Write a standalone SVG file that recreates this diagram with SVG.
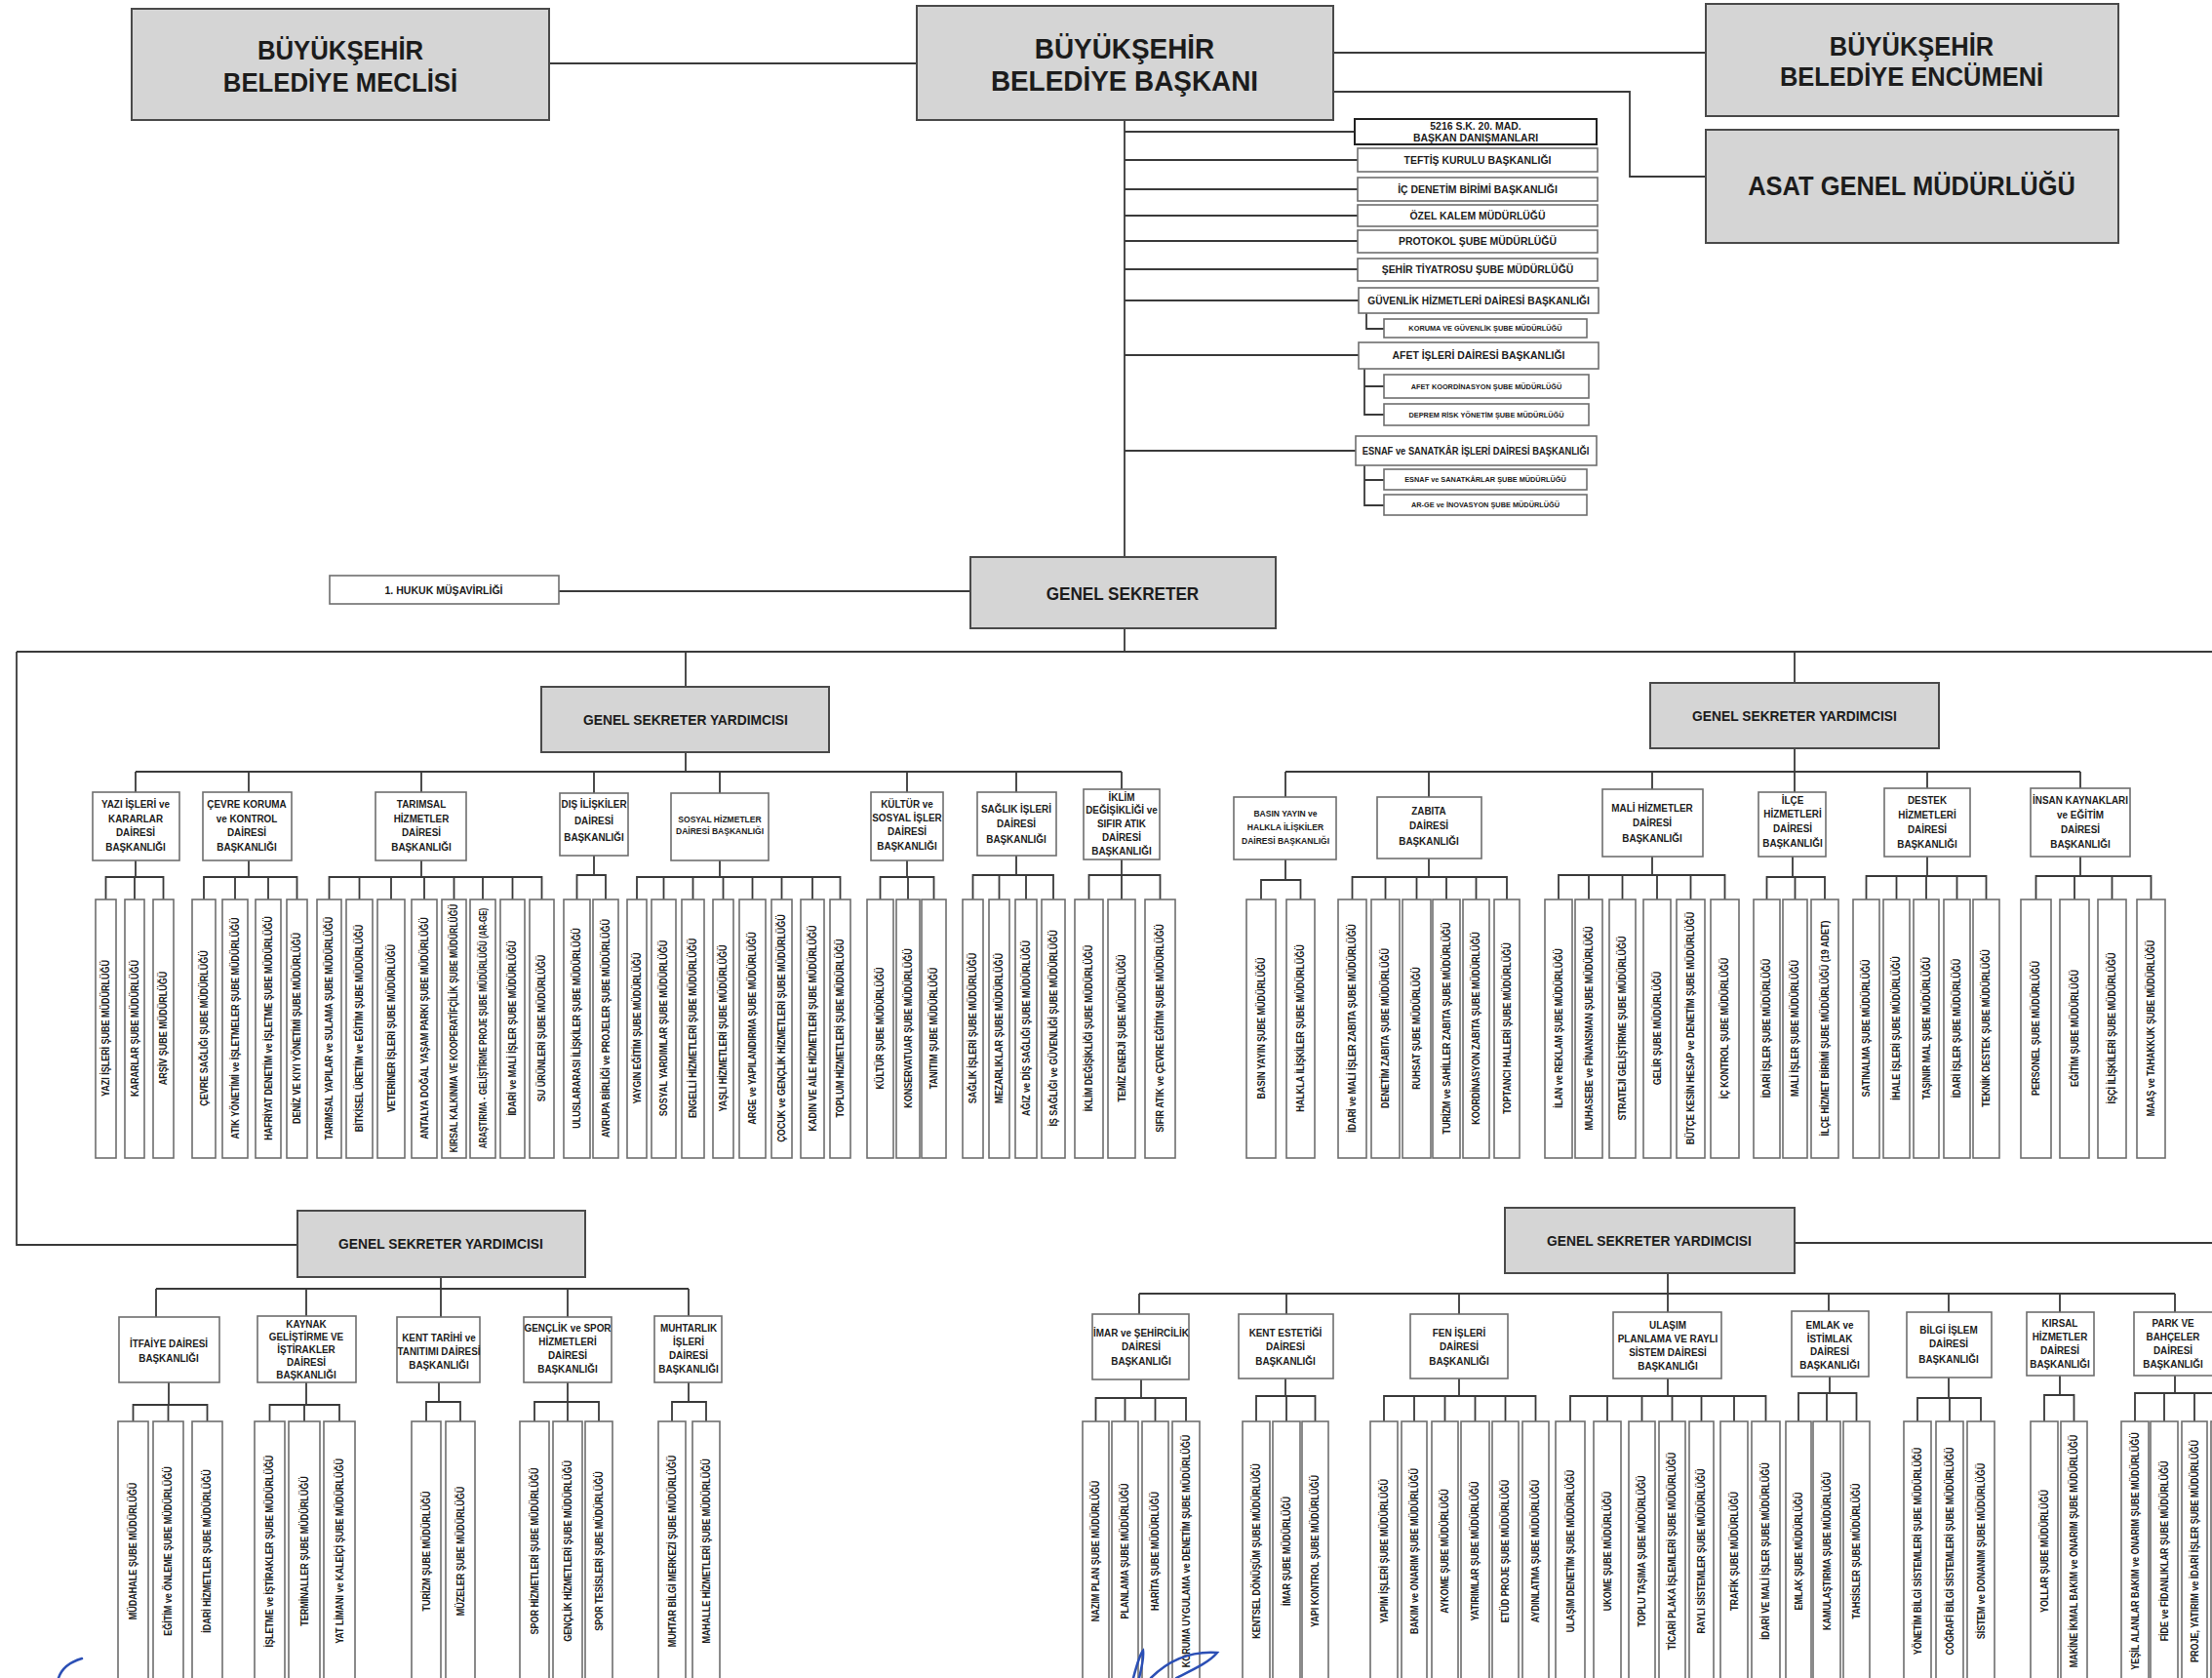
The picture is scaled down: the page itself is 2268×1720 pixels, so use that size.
<svg xmlns="http://www.w3.org/2000/svg" width="2268" height="1720" viewBox="0 0 2268 1720">
<style>
.g{fill:#d5d5d5;stroke:#4a4a4a;stroke-width:2}
.w{fill:#fff;stroke:#6e6e6e;stroke-width:1.6}
.wk{fill:#fff;stroke:#222;stroke-width:2}
.c{fill:none;stroke:#3a3a3a;stroke-width:1.8}
text{font-family:"Liberation Sans",Arial,sans-serif;font-weight:bold;fill:#1c1c1c;text-anchor:middle}
.t1{font-size:28px}
.t1b{font-size:30px}
.t2{font-size:19px}
.t3{font-size:15px}
.td{font-size:11px}
.tds{font-size:9.5px}
.tl{font-size:11px}
.ts{font-size:8px}
.tv{font-size:10px}
.sig{fill:none;stroke:#2b4fb5;stroke-width:2.5;stroke-linecap:round}
</style>
<rect width="2268" height="1720" fill="#fff"/>

<g id="connectors" class="c">
<path d="M563,65H940M1367,54H1749M1367,94H1671V181H1749M1153,123V571"/>
<path d="M1153,135H1389M1153,164H1392M1153,194H1392M1153,221H1392M1153,247H1392M1153,276H1392M1153,308H1393M1153,364H1393M1153,462H1390"/>
<path d="M1401,321V337H1419M1399,378V425H1419M1399,396H1419M1399,477V518H1419M1399,492H1419"/>
<path d="M573,606H995M1153,644V668M17,668H2268M17,668V1276H305"/>
<path d="M703,668V704M1840,668V700M703,771V791M1840,767V812"/>
<path d="M139,791H1150M139,791V812M255,791V812M432,791V812M609,791V813M738,791V813M930,791V812M1042,791V812M1150,791V809"/>
<path d="M1318,791H2133M1318,791V817M1465,791V817M1694,791V809M1976,791V808M2133,791V808"/>
<path d="M139,882V899M108.5,922V899H167.5V922M138,899V922"/>
<path d="M255,882V899M209,922V899H304.5V922M241,899V922M275,899V922"/>
<path d="M432,882V899M337.5,922V899H555.5V922M368.5,899V922M401,899V922M435,899V922M465.5,899V922M495,899V922M525.5,899V922"/>
<path d="M609,877V897M591.5,922V897H621V922"/>
<path d="M738,882V899M653,922V899H861.5V922M680.5,899V922M710.5,899V922M741.5,899V922M771.5,899V922M801.5,899V922M833,899V922"/>
<path d="M930,882V899M902.5,922V899H957.5V922M931,899V922"/>
<path d="M1042,877V897M997.5,922V897H1080V922M1024.5,897V922M1052,897V922"/>
<path d="M1150,881V897M1116.5,922V897H1189.5V922M1150,897V922"/>
<path d="M1318,881V902M1293,922V902H1333.5V922"/>
<path d="M1465,880V899M1386.5,922V899H1545V922M1420.5,899V922M1452.5,899V922M1483,899V922M1513.5,899V922"/>
<path d="M1694,878V897M1598,922V897H1768.5V922M1629,897V922M1663.5,897V922M1699,897V922M1733.5,897V922"/>
<path d="M1838,878V899M1811.5,922V899H1871V922M1840.5,899V922"/>
<path d="M1976,878V898M1913.5,922V898H2036.5V922M1944.5,898V922M1975,898V922M2006.5,898V922"/>
<path d="M2133,878V898M2087.5,922V898H2205.5V922M2127,898V922M2165.5,898V922"/>
<path d="M452,1309V1321M160,1321H706M160,1321V1350M314,1321V1349M452,1321V1350M582,1321V1350M706,1321V1349"/>
<path d="M173,1417V1440M136.5,1457V1440H212.5V1457M172.5,1440V1457"/>
<path d="M314,1417V1440M276.5,1457V1440H348V1457M312,1440V1457"/>
<path d="M450,1417V1437M437,1457V1437H472V1457"/>
<path d="M582,1417V1437M548,1457V1437H614V1457M582,1437V1457"/>
<path d="M706,1417V1437M689,1457V1437H724V1457"/>
<path d="M1840,1274H2268M1710,1305V1345M1168,1326H2230M1168,1326V1347M1319,1326V1347M1496,1326V1347M1875,1326V1344M1998,1326V1345M2112,1326V1345M2230,1326V1345"/>
<path d="M1170,1414V1433M1123.5,1457V1433H1216V1457M1153.5,1433V1457M1184.5,1433V1457"/>
<path d="M1318,1413V1431M1288,1457V1431H1348.5V1457M1319,1431V1457"/>
<path d="M1496,1413V1431M1419,1457V1431H1574.5V1457M1450,1431V1457M1481.5,1431V1457M1512.5,1431V1457M1543.5,1431V1457"/>
<path d="M1710,1413V1431M1610,1457V1431H1810.5V1457M1648,1431V1457M1683.5,1431V1457M1714.5,1431V1457M1744.5,1431V1457M1778,1431V1457"/>
<path d="M1876,1411V1428M1844,1457V1428H1903.5V1457M1873,1428V1457"/>
<path d="M1998,1412V1433M1966,1457V1433H2031V1457M1999,1433V1457"/>
<path d="M2112,1410V1430M2096,1457V1430H2126.5V1457"/>
<path d="M2230,1410V1428M2189,1457V1428H2281V1457M2219,1428V1457M2250,1428V1457"/>
</g>

<!-- top level -->
<g id="meclis"><rect class="g" x="135" y="9" width="428" height="114"/><text class="t1" transform="translate(349,0) scale(0.92,1)"><tspan x="0" y="61">BÜYÜKŞEHİR</tspan><tspan x="0" y="94">BELEDİYE MECLİSİ</tspan></text></g>
<g id="baskan"><rect class="g" x="940" y="6" width="427" height="117"/><text class="t1b" transform="translate(1153,0) scale(0.93,1)"><tspan x="0" y="60">BÜYÜKŞEHİR</tspan><tspan x="0" y="93">BELEDİYE BAŞKANI</tspan></text></g>
<g id="encumen"><rect class="g" x="1749" y="4" width="423" height="115"/><text class="t1" transform="translate(1960,0) scale(0.91,1)"><tspan x="0" y="57">BÜYÜKŞEHİR</tspan><tspan x="0" y="88">BELEDİYE ENCÜMENİ</tspan></text></g>
<g id="asat"><rect class="g" x="1749" y="133" width="423" height="116"/><text class="t1" transform="translate(1960,0) scale(0.91,1)" y="200">ASAT GENEL MÜDÜRLÜĞÜ</text></g>

<!-- advisory list -->
<g id="danismanlar"><rect class="wk" x="1389" y="122" width="248" height="26"/><text class="tl" font-size="10.5" transform="translate(1513,0) scale(0.95,1)"><tspan x="0" y="133">5216 S.K. 20. MAD.</tspan><tspan x="0" y="145">BAŞKAN DANIŞMANLARI</tspan></text></g>
<g id="teftis"><rect class="w" x="1392" y="152" width="246" height="24"/><text class="tl" transform="translate(1515,0) scale(0.95,1)" y="168">TEFTİŞ KURULU BAŞKANLIĞI</text></g>
<g id="icdenetim"><rect class="w" x="1392" y="182" width="246" height="24"/><text class="tl" transform="translate(1515,0) scale(0.95,1)" y="198">İÇ DENETİM BİRİMİ BAŞKANLIĞI</text></g>
<g id="ozelkalem"><rect class="w" x="1392" y="210" width="246" height="22"/><text class="tl" transform="translate(1515,0) scale(0.95,1)" y="225">ÖZEL KALEM MÜDÜRLÜĞÜ</text></g>
<g id="protokol"><rect class="w" x="1392" y="236" width="246" height="23"/><text class="tl" transform="translate(1515,0) scale(0.95,1)" y="251">PROTOKOL ŞUBE MÜDÜRLÜĞÜ</text></g>
<g id="tiyatro"><rect class="w" x="1392" y="265" width="246" height="23"/><text class="tl" transform="translate(1515,0) scale(0.95,1)" y="280">ŞEHİR TİYATROSU ŞUBE MÜDÜRLÜĞÜ</text></g>
<g id="guvenlik"><rect class="w" x="1393" y="295" width="246" height="26"/><text class="tl" transform="translate(1516,0) scale(0.93,1)" y="312">GÜVENLİK HİZMETLERİ DAİRESİ BAŞKANLIĞI</text></g>
<g id="koruma"><rect class="w" x="1419" y="327" width="208" height="19"/><text class="ts" transform="translate(1523,0) scale(0.92,1)" y="339">KORUMA VE GÜVENLİK ŞUBE MÜDÜRLÜĞÜ</text></g>
<g id="afet"><rect class="w" x="1393" y="351" width="246" height="27"/><text class="tl" transform="translate(1516,0) scale(0.95,1)" y="368">AFET İŞLERİ DAİRESİ BAŞKANLIĞI</text></g>
<g id="afetkoord"><rect class="w" x="1419" y="384" width="210" height="24"/><text class="ts" transform="translate(1524,0) scale(0.92,1)" y="399">AFET KOORDİNASYON ŞUBE MÜDÜRLÜĞÜ</text></g>
<g id="deprem"><rect class="w" x="1419" y="414" width="210" height="22"/><text class="ts" transform="translate(1524,0) scale(0.92,1)" y="428">DEPREM RİSK YÖNETİM ŞUBE MÜDÜRLÜĞÜ</text></g>
<g id="esnaf"><rect class="w" x="1390" y="447" width="247" height="30"/><text class="tl" transform="translate(1513,0) scale(0.85,1)" y="466">ESNAF ve SANATKÂR İŞLERİ DAİRESİ BAŞKANLIĞI</text></g>
<g id="esnafsube"><rect class="w" x="1419" y="481" width="208" height="21"/><text class="ts" transform="translate(1523,0) scale(0.92,1)" y="494">ESNAF ve SANATKÂRLAR ŞUBE MÜDÜRLÜĞÜ</text></g>
<g id="arge"><rect class="w" x="1419" y="507" width="208" height="21"/><text class="ts" transform="translate(1523,0) scale(0.92,1)" y="520">AR-GE ve İNOVASYON ŞUBE MÜDÜRLÜĞÜ</text></g>

<g id="hukuk"><rect class="w" x="338" y="590" width="235" height="29"/><text class="tl" font-size="12" transform="translate(455,0) scale(0.96,1)" y="609">1. HUKUK MÜŞAVİRLİĞİ</text></g>
<g id="genelsekreter"><rect class="g" x="995" y="571" width="313" height="73"/><text class="t2" transform="translate(1151,0) scale(0.9,1)" y="615">GENEL SEKRETER</text></g>

<g id="gsy1"><rect class="g" x="555" y="704" width="295" height="67"/><text class="t3" transform="translate(703,0) scale(0.92,1)" y="743">GENEL SEKRETER YARDIMCISI</text></g>
<g id="gsy2"><rect class="g" x="1692" y="700" width="296" height="67"/><text class="t3" transform="translate(1840,0) scale(0.92,1)" y="739">GENEL SEKRETER YARDIMCISI</text></g>
<g id="gsy3"><rect class="g" x="305" y="1241" width="295" height="68"/><text class="t3" transform="translate(452,0) scale(0.92,1)" y="1280">GENEL SEKRETER YARDIMCISI</text></g>
<g id="gsy4"><rect class="g" x="1543" y="1238" width="297" height="67"/><text class="t3" transform="translate(1691,0) scale(0.92,1)" y="1277">GENEL SEKRETER YARDIMCISI</text></g>

<!-- row 1 left departments -->
<g id="yazi"><rect class="w" x="95" y="812" width="89" height="70"/><text class="td" transform="translate(139,0) scale(0.9,1)"><tspan x="0" y="828">YAZI İŞLERİ ve</tspan><tspan x="0" y="843">KARARLAR</tspan><tspan x="0" y="857">DAİRESİ</tspan><tspan x="0" y="872">BAŞKANLIĞI</tspan></text>
<rect class="w" x="98" y="922" width="21" height="265"/><text class="tv" transform="translate(108.5,1054) rotate(-90) scale(0.9,1)" y="3.5">YAZI İŞLERİ ŞUBE MÜDÜRLÜĞÜ</text>
<rect class="w" x="128" y="922" width="20" height="265"/><text class="tv" transform="translate(138,1054) rotate(-90) scale(0.9,1)" y="3.5">KARARLAR ŞUBE MÜDÜRLÜĞÜ</text>
<rect class="w" x="157" y="922" width="21" height="265"/><text class="tv" transform="translate(167.5,1054) rotate(-90) scale(0.9,1)" y="3.5">ARŞİV ŞUBE MÜDÜRLÜĞÜ</text></g>

<g id="cevre"><rect class="w" x="208" y="812" width="91" height="70"/><text class="td" transform="translate(253,0) scale(0.9,1)"><tspan x="0" y="828">ÇEVRE KORUMA</tspan><tspan x="0" y="843">ve KONTROL</tspan><tspan x="0" y="857">DAİRESİ</tspan><tspan x="0" y="872">BAŞKANLIĞI</tspan></text>
<rect class="w" x="197" y="922" width="24" height="265"/><text class="tv" transform="translate(209,1054) rotate(-90) scale(0.9,1)" y="3.5">ÇEVRE SAĞLIĞI ŞUBE MÜDÜRLÜĞÜ</text>
<rect class="w" x="228" y="922" width="26" height="265"/><text class="tv" transform="translate(241,1054) rotate(-90) scale(0.9,1)" y="3.5">ATIK YÖNETİMİ ve İŞLETMELER ŞUBE MÜDÜRLÜĞÜ</text>
<rect class="w" x="262" y="922" width="26" height="265"/><text class="tv" transform="translate(275,1054) rotate(-90) scale(0.9,1)" y="3.5">HAFRİYAT DENETİM ve İŞLETME ŞUBE MÜDÜRLÜĞÜ</text>
<rect class="w" x="294" y="922" width="21" height="265"/><text class="tv" transform="translate(304.5,1054) rotate(-90) scale(0.9,1)" y="3.5">DENİZ VE KIYI YÖNETİMİ ŞUBE MÜDÜRLÜĞÜ</text></g>

<g id="tarimsal"><rect class="w" x="385" y="812" width="93" height="70"/><text class="td" transform="translate(432,0) scale(0.9,1)"><tspan x="0" y="828">TARIMSAL</tspan><tspan x="0" y="843">HİZMETLER</tspan><tspan x="0" y="857">DAİRESİ</tspan><tspan x="0" y="872">BAŞKANLIĞI</tspan></text>
<rect class="w" x="325" y="922" width="25" height="265"/><text class="tv" transform="translate(337.5,1054) rotate(-90) scale(0.9,1)" y="3.5">TARIMSAL YAPILAR ve SULAMA ŞUBE MÜDÜRLÜĞÜ</text>
<rect class="w" x="355" y="922" width="27" height="265"/><text class="tv" transform="translate(368.5,1054) rotate(-90) scale(0.9,1)" y="3.5">BİTKİSEL ÜRETİM ve EĞİTİM ŞUBE MÜDÜRLÜĞÜ</text>
<rect class="w" x="387" y="922" width="28" height="265"/><text class="tv" transform="translate(401,1054) rotate(-90) scale(0.9,1)" y="3.5">VETERİNER İŞLERİ ŞUBE MÜDÜRLÜĞÜ</text>
<rect class="w" x="422" y="922" width="26" height="265"/><text class="tv" transform="translate(435,1054) rotate(-90) scale(0.9,1)" y="3.5">ANTALYA DOĞAL YAŞAM PARKI ŞUBE MÜDÜRLÜĞÜ</text>
<rect class="w" x="453" y="922" width="25" height="265"/><text class="tv" transform="translate(465.5,1054) rotate(-90) scale(0.9,1)" y="3.5" textLength="283" lengthAdjust="spacingAndGlyphs">KIRSAL KALKINMA VE KOOPERATİFÇİLİK ŞUBE MÜDÜRLÜĞÜ</text>
<rect class="w" x="482" y="922" width="26" height="265"/><text class="tv" transform="translate(495,1054) rotate(-90) scale(0.9,1)" y="3.5" textLength="274" lengthAdjust="spacingAndGlyphs">ARAŞTIRMA - GELİŞTİRME PROJE ŞUBE MÜDÜRLÜĞÜ (AR-GE)</text>
<rect class="w" x="513" y="922" width="25" height="265"/><text class="tv" transform="translate(525.5,1054) rotate(-90) scale(0.9,1)" y="3.5">İDARİ ve MALİ İŞLER ŞUBE MÜDÜRLÜĞÜ</text>
<rect class="w" x="543" y="922" width="25" height="265"/><text class="tv" transform="translate(555.5,1054) rotate(-90) scale(0.9,1)" y="3.5">SU ÜRÜNLERİ ŞUBE MÜDÜRLÜĞÜ</text></g>

<g id="disiliskiler"><rect class="w" x="574" y="813" width="70" height="64"/><text class="td" font-size="10" transform="translate(609,0) scale(0.9,1)"><tspan x="0" y="828">DIŞ İLİŞKİLER</tspan><tspan x="0" y="845">DAİRESİ</tspan><tspan x="0" y="862">BAŞKANLIĞI</tspan></text>
<rect class="w" x="578" y="922" width="27" height="265"/><text class="tv" transform="translate(591.5,1054) rotate(-90) scale(0.9,1)" y="3.5">ULUSLARARASI İLİŞKİLER ŞUBE MÜDÜRLÜĞÜ</text>
<rect class="w" x="608" y="922" width="26" height="265"/><text class="tv" transform="translate(621,1054) rotate(-90) scale(0.9,1)" y="3.5">AVRUPA BİRLİĞİ ve PROJELER ŞUBE MÜDÜRLÜĞÜ</text></g>

<g id="sosyal"><rect class="w" x="688" y="813" width="100" height="69"/><text class="tds" transform="translate(738,0) scale(0.9,1)"><tspan x="0" y="843">SOSYAL HİZMETLER</tspan><tspan x="0" y="855">DAİRESİ BAŞKANLIĞI</tspan></text>
<rect class="w" x="643" y="922" width="20" height="265"/><text class="tv" transform="translate(653,1054) rotate(-90) scale(0.9,1)" y="3.5">YAYGIN EĞİTİM ŞUBE MÜDÜRLÜĞÜ</text>
<rect class="w" x="668" y="922" width="25" height="265"/><text class="tv" transform="translate(680.5,1054) rotate(-90) scale(0.9,1)" y="3.5">SOSYAL YARDIMLAR ŞUBE MÜDÜRLÜĞÜ</text>
<rect class="w" x="699" y="922" width="23" height="265"/><text class="tv" transform="translate(710.5,1054) rotate(-90) scale(0.9,1)" y="3.5">ENGELLİ HİZMETLERİ ŞUBE MÜDÜRLÜĞÜ</text>
<rect class="w" x="731" y="922" width="21" height="265"/><text class="tv" transform="translate(741.5,1054) rotate(-90) scale(0.9,1)" y="3.5">YAŞLI HİZMETLERİ ŞUBE MÜDÜRLÜĞÜ</text>
<rect class="w" x="758" y="922" width="27" height="265"/><text class="tv" transform="translate(771.5,1054) rotate(-90) scale(0.9,1)" y="3.5">ARGE ve YAPILANDIRMA ŞUBE MÜDÜRLÜĞÜ</text>
<rect class="w" x="791" y="922" width="21" height="265"/><text class="tv" transform="translate(801.5,1054) rotate(-90) scale(0.9,1)" y="3.5">ÇOCUK ve GENÇLİK HİZMETLERİ ŞUBE MÜDÜRLÜĞÜ</text>
<rect class="w" x="821" y="922" width="24" height="265"/><text class="tv" transform="translate(833,1054) rotate(-90) scale(0.9,1)" y="3.5">KADIN VE AİLE HİZMETLERİ ŞUBE MÜDÜRLÜĞÜ</text>
<rect class="w" x="851" y="922" width="21" height="265"/><text class="tv" transform="translate(861.5,1054) rotate(-90) scale(0.9,1)" y="3.5">TOPLUM HİZMETLERİ ŞUBE MÜDÜRLÜĞÜ</text></g>

<g id="kultur"><rect class="w" x="893" y="812" width="74" height="70"/><text class="td" font-size="10.5" transform="translate(930,0) scale(0.9,1)"><tspan x="0" y="828">KÜLTÜR ve</tspan><tspan x="0" y="842">SOSYAL İŞLER</tspan><tspan x="0" y="856">DAİRESİ</tspan><tspan x="0" y="871">BAŞKANLIĞI</tspan></text>
<rect class="w" x="889" y="922" width="27" height="265"/><text class="tv" transform="translate(902.5,1054) rotate(-90) scale(0.9,1)" y="3.5">KÜLTÜR ŞUBE MÜDÜRLÜĞÜ</text>
<rect class="w" x="919" y="922" width="24" height="265"/><text class="tv" transform="translate(931,1054) rotate(-90) scale(0.9,1)" y="3.5">KONSERVATUAR ŞUBE MÜDÜRLÜĞÜ</text>
<rect class="w" x="945" y="922" width="25" height="265"/><text class="tv" transform="translate(957.5,1054) rotate(-90) scale(0.9,1)" y="3.5">TANITIM ŞUBE MÜDÜRLÜĞÜ</text></g>

<g id="saglik"><rect class="w" x="1002" y="812" width="81" height="65"/><text class="td" transform="translate(1042,0) scale(0.9,1)"><tspan x="0" y="833">SAĞLIK İŞLERİ</tspan><tspan x="0" y="848">DAİRESİ</tspan><tspan x="0" y="864">BAŞKANLIĞI</tspan></text>
<rect class="w" x="987" y="922" width="21" height="265"/><text class="tv" transform="translate(997.5,1054) rotate(-90) scale(0.9,1)" y="3.5">SAĞLIK İŞLERİ ŞUBE MÜDÜRLÜĞÜ</text>
<rect class="w" x="1014" y="922" width="21" height="265"/><text class="tv" transform="translate(1024.5,1054) rotate(-90) scale(0.9,1)" y="3.5">MEZARLIKLAR ŞUBE MÜDÜRLÜĞÜ</text>
<rect class="w" x="1041" y="922" width="22" height="265"/><text class="tv" transform="translate(1052,1054) rotate(-90) scale(0.9,1)" y="3.5">AĞIZ ve DİŞ SAĞLIĞI ŞUBE MÜDÜRLÜĞÜ</text>
<rect class="w" x="1068" y="922" width="24" height="265"/><text class="tv" transform="translate(1080,1054) rotate(-90) scale(0.9,1)" y="3.5">İŞ SAĞLIĞI ve GÜVENLİĞİ ŞUBE MÜDÜRLÜĞÜ</text></g>

<g id="iklim"><rect class="w" x="1111" y="809" width="78" height="72"/><text class="td" font-size="10" transform="translate(1150,0) scale(0.9,1)"><tspan x="0" y="821">İKLİM</tspan><tspan x="0" y="834">DEĞİŞİKLİĞİ ve</tspan><tspan x="0" y="848">SIFIR ATIK</tspan><tspan x="0" y="862">DAİRESİ</tspan><tspan x="0" y="876">BAŞKANLIĞI</tspan></text>
<rect class="w" x="1102" y="922" width="29" height="265"/><text class="tv" transform="translate(1116.5,1054) rotate(-90) scale(0.9,1)" y="3.5">İKLİM DEĞİŞİKLİĞİ ŞUBE MÜDÜRLÜĞÜ</text>
<rect class="w" x="1136" y="922" width="28" height="265"/><text class="tv" transform="translate(1150,1054) rotate(-90) scale(0.9,1)" y="3.5">TEMİZ ENERJİ ŞUBE MÜDÜRLÜĞÜ</text>
<rect class="w" x="1174" y="922" width="31" height="265"/><text class="tv" transform="translate(1189.5,1054) rotate(-90) scale(0.9,1)" y="3.5">SIFIR ATIK ve ÇEVRE EĞİTİM ŞUBE MÜDÜRLÜĞÜ</text></g>

<!-- row 1 right departments -->
<g id="basin"><rect class="w" x="1265" y="817" width="105" height="64"/><text class="tds" transform="translate(1318,0) scale(0.9,1)"><tspan x="0" y="837">BASIN YAYIN ve</tspan><tspan x="0" y="851">HALKLA İLİŞKİLER</tspan><tspan x="0" y="865">DAİRESİ BAŞKANLIĞI</tspan></text>
<rect class="w" x="1278" y="922" width="30" height="265"/><text class="tv" transform="translate(1293,1054) rotate(-90) scale(0.9,1)" y="3.5">BASIN YAYIN ŞUBE MÜDÜRLÜĞÜ</text>
<rect class="w" x="1319" y="922" width="29" height="265"/><text class="tv" transform="translate(1333.5,1054) rotate(-90) scale(0.9,1)" y="3.5">HALKLA İLİŞKİLER ŞUBE MÜDÜRLÜĞÜ</text></g>

<g id="zabita"><rect class="w" x="1412" y="817" width="107" height="63"/><text class="td" transform="translate(1465,0) scale(0.9,1)"><tspan x="0" y="835">ZABITA</tspan><tspan x="0" y="850">DAİRESİ</tspan><tspan x="0" y="866">BAŞKANLIĞI</tspan></text>
<rect class="w" x="1372" y="922" width="29" height="265"/><text class="tv" transform="translate(1386.5,1054) rotate(-90) scale(0.9,1)" y="3.5">İDARİ ve MALİ İŞLER ZABITA ŞUBE MÜDÜRLÜĞÜ</text>
<rect class="w" x="1406" y="922" width="29" height="265"/><text class="tv" transform="translate(1420.5,1054) rotate(-90) scale(0.9,1)" y="3.5">DENETİM ZABITA ŞUBE MÜDÜRLÜĞÜ</text>
<rect class="w" x="1438" y="922" width="29" height="265"/><text class="tv" transform="translate(1452.5,1054) rotate(-90) scale(0.9,1)" y="3.5">RUHSAT ŞUBE MÜDÜRLÜĞÜ</text>
<rect class="w" x="1469" y="922" width="28" height="265"/><text class="tv" transform="translate(1483,1054) rotate(-90) scale(0.9,1)" y="3.5">TURİZM ve SAHİLLER ZABITA ŞUBE MÜDÜRLÜĞÜ</text>
<rect class="w" x="1500" y="922" width="27" height="265"/><text class="tv" transform="translate(1513.5,1054) rotate(-90) scale(0.9,1)" y="3.5">KOORDİNASYON ZABITA ŞUBE MÜDÜRLÜĞÜ</text>
<rect class="w" x="1532" y="922" width="26" height="265"/><text class="tv" transform="translate(1545,1054) rotate(-90) scale(0.9,1)" y="3.5">TOPTANCI HALLERİ ŞUBE MÜDÜRLÜĞÜ</text></g>

<g id="mali"><rect class="w" x="1643" y="809" width="103" height="69"/><text class="td" transform="translate(1694,0) scale(0.9,1)"><tspan x="0" y="832">MALİ HİZMETLER</tspan><tspan x="0" y="847">DAİRESİ</tspan><tspan x="0" y="863">BAŞKANLIĞI</tspan></text>
<rect class="w" x="1584" y="922" width="28" height="265"/><text class="tv" transform="translate(1598,1054) rotate(-90) scale(0.9,1)" y="3.5">İLAN ve REKLAM ŞUBE MÜDÜRLÜĞÜ</text>
<rect class="w" x="1615" y="922" width="28" height="265"/><text class="tv" transform="translate(1629,1054) rotate(-90) scale(0.9,1)" y="3.5">MUHASEBE ve FİNANSMAN ŞUBE MÜDÜRLÜĞÜ</text>
<rect class="w" x="1650" y="922" width="27" height="265"/><text class="tv" transform="translate(1663.5,1054) rotate(-90) scale(0.9,1)" y="3.5">STRATEJİ GELİŞTİRME ŞUBE MÜDÜRLÜĞÜ</text>
<rect class="w" x="1685" y="922" width="28" height="265"/><text class="tv" transform="translate(1699,1054) rotate(-90) scale(0.9,1)" y="3.5">GELİR ŞUBE MÜDÜRLÜĞÜ</text>
<rect class="w" x="1719" y="922" width="29" height="265"/><text class="tv" transform="translate(1733.5,1054) rotate(-90) scale(0.9,1)" y="3.5">BÜTÇE KESİN HESAP ve DENETİM ŞUBE MÜDÜRLÜĞÜ</text>
<rect class="w" x="1754" y="922" width="29" height="265"/><text class="tv" transform="translate(1768.5,1054) rotate(-90) scale(0.9,1)" y="3.5">İÇ KONTROL ŞUBE MÜDÜRLÜĞÜ</text></g>

<g id="ilce"><rect class="w" x="1803" y="812" width="69" height="66"/><text class="td" font-size="10.5" transform="translate(1838,0) scale(0.9,1)"><tspan x="0" y="824">İLÇE</tspan><tspan x="0" y="838">HİZMETLERİ</tspan><tspan x="0" y="853">DAİRESİ</tspan><tspan x="0" y="868">BAŞKANLIĞI</tspan></text>
<rect class="w" x="1798" y="922" width="27" height="265"/><text class="tv" transform="translate(1811.5,1054) rotate(-90) scale(0.9,1)" y="3.5">İDARİ İŞLER ŞUBE MÜDÜRLÜĞÜ</text>
<rect class="w" x="1828" y="922" width="25" height="265"/><text class="tv" transform="translate(1840.5,1054) rotate(-90) scale(0.9,1)" y="3.5">MALİ İŞLER ŞUBE MÜDÜRLÜĞÜ</text>
<rect class="w" x="1857" y="922" width="28" height="265"/><text class="tv" transform="translate(1871,1054) rotate(-90) scale(0.9,1)" y="3.5">İLÇE HİZMET BİRİMİ ŞUBE MÜDÜRLÜĞÜ (19 ADET)</text></g>

<g id="destek"><rect class="w" x="1932" y="808" width="88" height="70"/><text class="td" transform="translate(1976,0) scale(0.9,1)"><tspan x="0" y="824">DESTEK</tspan><tspan x="0" y="839">HİZMETLERİ</tspan><tspan x="0" y="854">DAİRESİ</tspan><tspan x="0" y="869">BAŞKANLIĞI</tspan></text>
<rect class="w" x="1900" y="922" width="27" height="265"/><text class="tv" transform="translate(1913.5,1054) rotate(-90) scale(0.9,1)" y="3.5">SATINALMA ŞUBE MÜDÜRLÜĞÜ</text>
<rect class="w" x="1931" y="922" width="27" height="265"/><text class="tv" transform="translate(1944.5,1054) rotate(-90) scale(0.9,1)" y="3.5">İHALE İŞLERİ ŞUBE MÜDÜRLÜĞÜ</text>
<rect class="w" x="1962" y="922" width="26" height="265"/><text class="tv" transform="translate(1975,1054) rotate(-90) scale(0.9,1)" y="3.5">TAŞINIR MAL ŞUBE MÜDÜRLÜĞÜ</text>
<rect class="w" x="1993" y="922" width="27" height="265"/><text class="tv" transform="translate(2006.5,1054) rotate(-90) scale(0.9,1)" y="3.5">İDARİ İŞLER ŞUBE MÜDÜRLÜĞÜ</text>
<rect class="w" x="2023" y="922" width="27" height="265"/><text class="tv" transform="translate(2036.5,1054) rotate(-90) scale(0.9,1)" y="3.5">TEKNİK DESTEK ŞUBE MÜDÜRLÜĞÜ</text></g>

<g id="insan"><rect class="w" x="2082" y="808" width="102" height="70"/><text class="td" font-size="10.5" transform="translate(2133,0) scale(0.9,1)"><tspan x="0" y="824">İNSAN KAYNAKLARI</tspan><tspan x="0" y="839">ve EĞİTİM</tspan><tspan x="0" y="854">DAİRESİ</tspan><tspan x="0" y="869">BAŞKANLIĞI</tspan></text>
<rect class="w" x="2072" y="922" width="31" height="265"/><text class="tv" transform="translate(2087.5,1054) rotate(-90) scale(0.9,1)" y="3.5">PERSONEL ŞUBE MÜDÜRLÜĞÜ</text>
<rect class="w" x="2112" y="922" width="30" height="265"/><text class="tv" transform="translate(2127,1054) rotate(-90) scale(0.9,1)" y="3.5">EĞİTİM ŞUBE MÜDÜRLÜĞÜ</text>
<rect class="w" x="2151" y="922" width="29" height="265"/><text class="tv" transform="translate(2165.5,1054) rotate(-90) scale(0.9,1)" y="3.5">İŞÇİ İLİŞKİLERİ ŞUBE MÜDÜRLÜĞÜ</text>
<rect class="w" x="2191" y="922" width="29" height="265"/><text class="tv" transform="translate(2205.5,1054) rotate(-90) scale(0.9,1)" y="3.5">MAAŞ ve TAHAKKUK ŞUBE MÜDÜRLÜĞÜ</text></g>

<!-- row 2 left departments -->
<g id="itfaiye"><rect class="w" x="122" y="1350" width="103" height="67"/><text class="td" transform="translate(173,0) scale(0.9,1)"><tspan x="0" y="1381">İTFAİYE DAİRESİ</tspan><tspan x="0" y="1396">BAŞKANLIĞI</tspan></text>
<rect class="w" x="121" y="1457" width="31" height="270"/><text class="tv" transform="translate(136.5,1590) rotate(-90) scale(0.9,1)" y="3.5">MÜDAHALE ŞUBE MÜDÜRLÜĞÜ</text>
<rect class="w" x="157" y="1457" width="31" height="270"/><text class="tv" transform="translate(172.5,1590) rotate(-90) scale(0.9,1)" y="3.5">EĞİTİM ve ÖNLEME ŞUBE MÜDÜRLÜĞÜ</text>
<rect class="w" x="197" y="1457" width="31" height="270"/><text class="tv" transform="translate(212.5,1590) rotate(-90) scale(0.9,1)" y="3.5">İDARİ HİZMETLER ŞUBE MÜDÜRLÜĞÜ</text></g>

<g id="kaynak"><rect class="w" x="264" y="1349" width="101" height="68"/><text class="td" font-size="10.5" transform="translate(314,0) scale(0.9,1)"><tspan x="0" y="1361">KAYNAK</tspan><tspan x="0" y="1374">GELİŞTİRME VE</tspan><tspan x="0" y="1387">İŞTİRAKLER</tspan><tspan x="0" y="1400">DAİRESİ</tspan><tspan x="0" y="1413">BAŞKANLIĞI</tspan></text>
<rect class="w" x="261" y="1457" width="31" height="270"/><text class="tv" transform="translate(276.5,1590) rotate(-90) scale(0.9,1)" y="3.5">İŞLETME ve İŞTİRAKLER ŞUBE MÜDÜRLÜĞÜ</text>
<rect class="w" x="296" y="1457" width="32" height="270"/><text class="tv" transform="translate(312,1590) rotate(-90) scale(0.9,1)" y="3.5">TERMİNALLER ŞUBE MÜDÜRLÜĞÜ</text>
<rect class="w" x="332" y="1457" width="32" height="270"/><text class="tv" transform="translate(348,1590) rotate(-90) scale(0.9,1)" y="3.5">YAT LİMANI ve KALEİÇİ ŞUBE MÜDÜRLÜĞÜ</text></g>

<g id="kenttarihi"><rect class="w" x="407" y="1350" width="85" height="67"/><text class="td" font-size="10" transform="translate(450,0) scale(0.9,1)"><tspan x="0" y="1375">KENT TARİHİ ve</tspan><tspan x="0" y="1389">TANITIMI DAİRESİ</tspan><tspan x="0" y="1403">BAŞKANLIĞI</tspan></text>
<rect class="w" x="422" y="1457" width="30" height="270"/><text class="tv" transform="translate(437,1590) rotate(-90) scale(0.9,1)" y="3.5">TURİZM ŞUBE MÜDÜRLÜĞÜ</text>
<rect class="w" x="457" y="1457" width="30" height="270"/><text class="tv" transform="translate(472,1590) rotate(-90) scale(0.9,1)" y="3.5">MÜZELER ŞUBE MÜDÜRLÜĞÜ</text></g>

<g id="genclik"><rect class="w" x="537" y="1350" width="90" height="67"/><text class="td" font-size="10.5" transform="translate(582,0) scale(0.9,1)"><tspan x="0" y="1365">GENÇLİK ve SPOR</tspan><tspan x="0" y="1379">HİZMETLERİ</tspan><tspan x="0" y="1393">DAİRESİ</tspan><tspan x="0" y="1407">BAŞKANLIĞI</tspan></text>
<rect class="w" x="533" y="1457" width="30" height="270"/><text class="tv" transform="translate(548,1590) rotate(-90) scale(0.9,1)" y="3.5">SPOR HİZMETLERİ ŞUBE MÜDÜRLÜĞÜ</text>
<rect class="w" x="567" y="1457" width="30" height="270"/><text class="tv" transform="translate(582,1590) rotate(-90) scale(0.9,1)" y="3.5">GENÇLİK HİZMETLERİ ŞUBE MÜDÜRLÜĞÜ</text>
<rect class="w" x="600" y="1457" width="28" height="270"/><text class="tv" transform="translate(614,1590) rotate(-90) scale(0.9,1)" y="3.5">SPOR TESİSLERİ ŞUBE MÜDÜRLÜĞÜ</text></g>

<g id="muhtarlik"><rect class="w" x="671" y="1349" width="69" height="68"/><text class="td" font-size="10.5" transform="translate(706,0) scale(0.9,1)"><tspan x="0" y="1365">MUHTARLIK</tspan><tspan x="0" y="1379">İŞLERİ</tspan><tspan x="0" y="1393">DAİRESİ</tspan><tspan x="0" y="1407">BAŞKANLIĞI</tspan></text>
<rect class="w" x="675" y="1457" width="28" height="270"/><text class="tv" transform="translate(689,1590) rotate(-90) scale(0.9,1)" y="3.5">MUHTAR BİLGİ MERKEZİ ŞUBE MÜDÜRLÜĞÜ</text>
<rect class="w" x="710" y="1457" width="28" height="270"/><text class="tv" transform="translate(724,1590) rotate(-90) scale(0.9,1)" y="3.5">MAHALLE HİZMETLERİ ŞUBE MÜDÜRLÜĞÜ</text></g>

<!-- row 2 right departments -->
<g id="imar"><rect class="w" x="1120" y="1347" width="99" height="67"/><text class="td" font-size="10" transform="translate(1170,0) scale(0.9,1)"><tspan x="0" y="1370">İMAR ve ŞEHİRCİLİK</tspan><tspan x="0" y="1384">DAİRESİ</tspan><tspan x="0" y="1399">BAŞKANLIĞI</tspan></text>
<rect class="w" x="1110" y="1457" width="27" height="270"/><text class="tv" transform="translate(1123.5,1590) rotate(-90) scale(0.9,1)" y="3.5">NAZIM PLAN ŞUBE MÜDÜRLÜĞÜ</text>
<rect class="w" x="1140" y="1457" width="27" height="270"/><text class="tv" transform="translate(1153.5,1590) rotate(-90) scale(0.9,1)" y="3.5">PLANLAMA ŞUBE MÜDÜRLÜĞÜ</text>
<rect class="w" x="1171" y="1457" width="27" height="270"/><text class="tv" transform="translate(1184.5,1590) rotate(-90) scale(0.9,1)" y="3.5">HARİTA ŞUBE MÜDÜRLÜĞÜ</text>
<rect class="w" x="1202" y="1457" width="28" height="270"/><text class="tv" transform="translate(1216,1590) rotate(-90) scale(0.9,1)" y="3.5">KORUMA UYGULAMA ve DENETİM ŞUBE MÜDÜRLÜĞÜ</text></g>

<g id="kentestetigi"><rect class="w" x="1270" y="1347" width="97" height="66"/><text class="td" transform="translate(1318,0) scale(0.9,1)"><tspan x="0" y="1370">KENT ESTETİĞİ</tspan><tspan x="0" y="1384">DAİRESİ</tspan><tspan x="0" y="1399">BAŞKANLIĞI</tspan></text>
<rect class="w" x="1274" y="1457" width="28" height="270"/><text class="tv" transform="translate(1288,1590) rotate(-90) scale(0.9,1)" y="3.5">KENTSEL DÖNÜŞÜM ŞUBE MÜDÜRLÜĞÜ</text>
<rect class="w" x="1305" y="1457" width="28" height="270"/><text class="tv" transform="translate(1319,1590) rotate(-90) scale(0.9,1)" y="3.5">İMAR ŞUBE MÜDÜRLÜĞÜ</text>
<rect class="w" x="1335" y="1457" width="27" height="270"/><text class="tv" transform="translate(1348.5,1590) rotate(-90) scale(0.9,1)" y="3.5">YAPI KONTROL ŞUBE MÜDÜRLÜĞÜ</text></g>

<g id="fen"><rect class="w" x="1446" y="1347" width="100" height="66"/><text class="td" transform="translate(1496,0) scale(0.9,1)"><tspan x="0" y="1370">FEN İŞLERİ</tspan><tspan x="0" y="1384">DAİRESİ</tspan><tspan x="0" y="1399">BAŞKANLIĞI</tspan></text>
<rect class="w" x="1405" y="1457" width="28" height="270"/><text class="tv" transform="translate(1419,1590) rotate(-90) scale(0.9,1)" y="3.5">YAPIM İŞLERİ ŞUBE MÜDÜRLÜĞÜ</text>
<rect class="w" x="1437" y="1457" width="26" height="270"/><text class="tv" transform="translate(1450,1590) rotate(-90) scale(0.9,1)" y="3.5">BAKIM ve ONARIM ŞUBE MÜDÜRLÜĞÜ</text>
<rect class="w" x="1468" y="1457" width="27" height="270"/><text class="tv" transform="translate(1481.5,1590) rotate(-90) scale(0.9,1)" y="3.5">AYKOME ŞUBE MÜDÜRLÜĞÜ</text>
<rect class="w" x="1498" y="1457" width="29" height="270"/><text class="tv" transform="translate(1512.5,1590) rotate(-90) scale(0.9,1)" y="3.5">YATIRIMLAR ŞUBE MÜDÜRLÜĞÜ</text>
<rect class="w" x="1530" y="1457" width="27" height="270"/><text class="tv" transform="translate(1543.5,1590) rotate(-90) scale(0.9,1)" y="3.5">ETÜD PROJE ŞUBE MÜDÜRLÜĞÜ</text>
<rect class="w" x="1561" y="1457" width="27" height="270"/><text class="tv" transform="translate(1574.5,1590) rotate(-90) scale(0.9,1)" y="3.5">AYDINLATMA ŞUBE MÜDÜRLÜĞÜ</text></g>

<g id="ulasim"><rect class="w" x="1654" y="1345" width="111" height="68"/><text class="td" font-size="10.5" transform="translate(1710,0) scale(0.9,1)"><tspan x="0" y="1362">ULAŞIM</tspan><tspan x="0" y="1376">PLANLAMA VE RAYLI</tspan><tspan x="0" y="1390">SİSTEM DAİRESİ</tspan><tspan x="0" y="1404">BAŞKANLIĞI</tspan></text>
<rect class="w" x="1595" y="1457" width="30" height="270"/><text class="tv" transform="translate(1610,1590) rotate(-90) scale(0.9,1)" y="3.5">ULAŞIM DENETİM ŞUBE MÜDÜRLÜĞÜ</text>
<rect class="w" x="1634" y="1457" width="28" height="270"/><text class="tv" transform="translate(1648,1590) rotate(-90) scale(0.9,1)" y="3.5">UKOME ŞUBE MÜDÜRLÜĞÜ</text>
<rect class="w" x="1670" y="1457" width="27" height="270"/><text class="tv" transform="translate(1683.5,1590) rotate(-90) scale(0.9,1)" y="3.5">TOPLU TAŞIMA ŞUBE MÜDÜRLÜĞÜ</text>
<rect class="w" x="1701" y="1457" width="27" height="270"/><text class="tv" transform="translate(1714.5,1590) rotate(-90) scale(0.9,1)" y="3.5">TİCARİ PLAKA İŞLEMLERİ ŞUBE MÜDÜRLÜĞÜ</text>
<rect class="w" x="1732" y="1457" width="25" height="270"/><text class="tv" transform="translate(1744.5,1590) rotate(-90) scale(0.9,1)" y="3.5">RAYLI SİSTEMLER ŞUBE MÜDÜRLÜĞÜ</text>
<rect class="w" x="1764" y="1457" width="28" height="270"/><text class="tv" transform="translate(1778,1590) rotate(-90) scale(0.9,1)" y="3.5">TRAFİK ŞUBE MÜDÜRLÜĞÜ</text>
<rect class="w" x="1796" y="1457" width="29" height="270"/><text class="tv" transform="translate(1810.5,1590) rotate(-90) scale(0.9,1)" y="3.5">İDARİ VE MALİ İŞLER ŞUBE MÜDÜRLÜĞÜ</text></g>

<g id="emlak"><rect class="w" x="1837" y="1344" width="79" height="67"/><text class="td" font-size="10.5" transform="translate(1876,0) scale(0.9,1)"><tspan x="0" y="1362">EMLAK ve</tspan><tspan x="0" y="1376">İSTİMLAK</tspan><tspan x="0" y="1389">DAİRESİ</tspan><tspan x="0" y="1403">BAŞKANLIĞI</tspan></text>
<rect class="w" x="1831" y="1457" width="26" height="270"/><text class="tv" transform="translate(1844,1590) rotate(-90) scale(0.9,1)" y="3.5">EMLAK ŞUBE MÜDÜRLÜĞÜ</text>
<rect class="w" x="1859" y="1457" width="28" height="270"/><text class="tv" transform="translate(1873,1590) rotate(-90) scale(0.9,1)" y="3.5">KAMULAŞTIRMA ŞUBE MÜDÜRLÜĞÜ</text>
<rect class="w" x="1890" y="1457" width="27" height="270"/><text class="tv" transform="translate(1903.5,1590) rotate(-90) scale(0.9,1)" y="3.5">TAHSİSLER ŞUBE MÜDÜRLÜĞÜ</text></g>

<g id="bilgiislem"><rect class="w" x="1955" y="1345" width="87" height="67"/><text class="td" transform="translate(1998,0) scale(0.9,1)"><tspan x="0" y="1367">BİLGİ İŞLEM</tspan><tspan x="0" y="1381">DAİRESİ</tspan><tspan x="0" y="1397">BAŞKANLIĞI</tspan></text>
<rect class="w" x="1952" y="1457" width="28" height="270"/><text class="tv" transform="translate(1966,1590) rotate(-90) scale(0.9,1)" y="3.5">YÖNETİM BİLGİ SİSTEMLERİ ŞUBE MÜDÜRLÜĞÜ</text>
<rect class="w" x="1985" y="1457" width="28" height="270"/><text class="tv" transform="translate(1999,1590) rotate(-90) scale(0.9,1)" y="3.5">COĞRAFİ BİLGİ SİSTEMLERİ ŞUBE MÜDÜRLÜĞÜ</text>
<rect class="w" x="2017" y="1457" width="28" height="270"/><text class="tv" transform="translate(2031,1590) rotate(-90) scale(0.9,1)" y="3.5">SİSTEM ve DONANIM ŞUBE MÜDÜRLÜĞÜ</text></g>

<g id="kirsal"><rect class="w" x="2078" y="1345" width="69" height="65"/><text class="td" font-size="10.5" transform="translate(2112,0) scale(0.9,1)"><tspan x="0" y="1360">KIRSAL</tspan><tspan x="0" y="1374">HİZMETLER</tspan><tspan x="0" y="1388">DAİRESİ</tspan><tspan x="0" y="1402">BAŞKANLIĞI</tspan></text>
<rect class="w" x="2082" y="1457" width="28" height="270"/><text class="tv" transform="translate(2096,1590) rotate(-90) scale(0.9,1)" y="3.5">YOLLAR ŞUBE MÜDÜRLÜĞÜ</text>
<rect class="w" x="2113" y="1457" width="27" height="270"/><text class="tv" transform="translate(2126.5,1590) rotate(-90) scale(0.9,1)" y="3.5">MAKİNE İKMAL BAKIM ve ONARIM ŞUBE MÜDÜRLÜĞÜ</text></g>

<g id="park"><rect class="w" x="2188" y="1345" width="90" height="65"/><text class="td" font-size="10.5" transform="translate(2228,0) scale(0.9,1)"><tspan x="0" y="1360">PARK VE</tspan><tspan x="0" y="1374">BAHÇELER</tspan><tspan x="0" y="1388">DAİRESİ</tspan><tspan x="0" y="1402">BAŞKANLIĞI</tspan></text>
<rect class="w" x="2175" y="1457" width="28" height="270"/><text class="tv" transform="translate(2189,1590) rotate(-90) scale(0.9,1)" y="3.5">YEŞİL ALANLAR BAKIM ve ONARIM ŞUBE MÜDÜRLÜĞÜ</text>
<rect class="w" x="2205" y="1457" width="28" height="270"/><text class="tv" transform="translate(2219,1590) rotate(-90) scale(0.9,1)" y="3.5">FİDE ve FİDANLIKLAR ŞUBE MÜDÜRLÜĞÜ</text>
<rect class="w" x="2237" y="1457" width="26" height="270"/><text class="tv" transform="translate(2250,1590) rotate(-90) scale(0.9,1)" y="3.5">PROJE, YATIRIM ve İDARİ İŞLER ŞUBE MÜDÜRLÜĞÜ</text>
<rect class="w" x="2267" y="1457" width="28" height="270"/></g>

<g id="signature">
<path class="sig" d="M60,1720C63,1711 70,1704 84,1700"/>
<path class="sig" d="M1162,1720C1166,1705 1170,1694 1172,1692C1173,1700 1170,1712 1168,1720M1180,1720C1196,1704 1218,1692 1248,1694C1240,1704 1222,1712 1206,1720"/>
</g>
</svg>
